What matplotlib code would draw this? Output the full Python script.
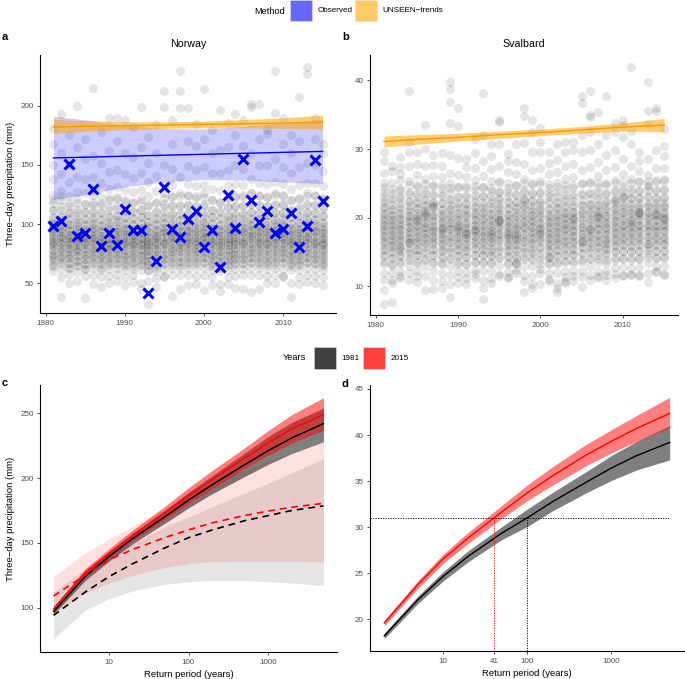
import numpy as np
import matplotlib
matplotlib.use("Agg")
import matplotlib.pyplot as plt
from matplotlib.patches import Rectangle

plt.rcParams['font.family'] = ['Liberation Sans', 'DejaVu Sans']

# ---- data ----
years = list(range(1981, 2016))

# observed Norway 3-day maxima (blue crosses)
norway_obs = [98.1, 102.4, 150.5, 89.6, 92.7, 129.5, 81.7, 92.7, 82.3, 112.5,
              94.7, 95.3, 41.8, 68.7, 131.2, 96.1, 89.0, 104.3, 111.1, 80.8,
              95.3, 63.6, 125.0, 96.7, 155.0, 120.2, 102.1, 110.6, 92.4, 95.6,
              109.7, 80.3, 98.4, 153.9, 119.1]

# UNSEEN ensemble, Norway (mm), one list per year: spread + dense core
norway_ens = [
    [98, 181, 168, 150, 138, 125, 118, 112, 105, 100, 96, 92, 88, 85, 82, 78, 74, 70, 65, 60],
    [193, 160, 142, 128, 120, 112, 106, 101, 97, 94, 90, 87, 84, 80, 76, 72, 68, 62, 55, 38],
    [175, 150, 136, 124, 115, 109, 103, 99, 95, 91, 88, 85, 82, 79, 75, 71, 67, 63, 58, 50],
    [200, 165, 140, 127, 118, 110, 104, 100, 96, 92, 89, 86, 83, 80, 77, 73, 69, 64, 59, 52],
    [172, 155, 138, 126, 117, 110, 104, 99, 95, 91, 88, 85, 82, 78, 74, 70, 66, 62, 56, 37],
    [215, 158, 140, 128, 119, 112, 106, 101, 97, 93, 90, 87, 84, 80, 76, 72, 68, 63, 57, 49],
    [178, 152, 135, 124, 116, 109, 103, 98, 94, 90, 87, 84, 81, 78, 74, 70, 66, 61, 55, 47],
    [190, 162, 144, 130, 120, 112, 106, 100, 96, 92, 88, 85, 82, 79, 75, 71, 67, 62, 56, 50],
    [190, 170, 146, 131, 121, 113, 107, 102, 97, 93, 89, 86, 83, 79, 75, 71, 67, 63, 58, 52],
    [188, 160, 142, 129, 119, 111, 105, 100, 96, 92, 88, 85, 82, 78, 74, 70, 66, 61, 55, 48],
    [182, 157, 139, 127, 118, 110, 104, 99, 95, 91, 88, 85, 82, 79, 75, 71, 67, 62, 57, 51],
    [199, 165, 143, 129, 119, 112, 106, 100, 96, 92, 88, 85, 82, 78, 74, 70, 66, 61, 50, 45],
    [174, 152, 136, 124, 115, 108, 102, 97, 93, 89, 86, 83, 80, 77, 73, 69, 65, 60, 52, 32],
    [185, 160, 141, 128, 118, 110, 104, 99, 95, 91, 88, 85, 82, 78, 74, 70, 65, 60, 54, 47],
    [213, 199, 150, 132, 122, 114, 107, 101, 97, 93, 89, 86, 83, 79, 75, 71, 67, 62, 56, 55],
    [188, 168, 147, 133, 123, 115, 108, 102, 97, 93, 90, 87, 84, 80, 76, 72, 68, 63, 57, 39],
    [230, 213, 198, 140, 126, 116, 109, 103, 98, 94, 90, 86, 83, 80, 76, 72, 68, 63, 57, 45],
    [198, 170, 149, 134, 124, 116, 109, 103, 98, 94, 90, 87, 84, 80, 76, 72, 68, 63, 57, 48],
    [185, 166, 146, 132, 122, 114, 108, 102, 97, 93, 89, 86, 83, 80, 76, 72, 68, 63, 56, 49],
    [214, 172, 148, 133, 123, 115, 108, 102, 97, 93, 90, 87, 84, 80, 76, 72, 68, 63, 57, 44],
    [180, 160, 143, 130, 120, 112, 106, 100, 96, 92, 88, 85, 82, 78, 74, 70, 66, 61, 55, 48],
    [197, 163, 143, 129, 119, 111, 105, 99, 95, 91, 87, 84, 81, 77, 73, 69, 65, 60, 49, 43],
    [186, 165, 146, 132, 122, 114, 107, 101, 96, 92, 88, 85, 82, 78, 74, 70, 66, 61, 55, 49],
    [193, 175, 150, 134, 123, 115, 108, 102, 97, 93, 89, 86, 83, 79, 75, 71, 67, 62, 56, 46],
    [188, 166, 147, 133, 123, 115, 108, 102, 97, 93, 89, 86, 83, 79, 75, 71, 67, 62, 57, 45],
    [202, 199, 160, 138, 126, 117, 110, 104, 99, 95, 91, 88, 84, 80, 76, 72, 68, 63, 57, 42],
    [202, 172, 150, 135, 124, 116, 109, 103, 98, 94, 90, 87, 84, 80, 76, 72, 68, 63, 57, 45],
    [180, 176, 150, 134, 123, 115, 108, 102, 97, 93, 89, 86, 83, 79, 75, 71, 67, 62, 56, 50],
    [230, 194, 155, 136, 125, 116, 109, 103, 98, 94, 90, 87, 84, 80, 76, 72, 68, 63, 57, 50],
    [190, 168, 148, 134, 124, 116, 109, 103, 98, 94, 90, 87, 84, 80, 76, 72, 68, 62, 56, 55],
    [175, 160, 143, 130, 120, 112, 106, 100, 96, 92, 88, 85, 82, 78, 74, 70, 66, 61, 50, 38],
    [208, 170, 148, 133, 122, 114, 107, 101, 96, 92, 88, 85, 82, 78, 74, 70, 66, 61, 55, 49],
    [233, 227, 152, 135, 124, 116, 109, 103, 98, 94, 90, 87, 84, 80, 76, 72, 68, 63, 57, 51],
    [190, 172, 150, 135, 124, 116, 109, 103, 98, 94, 90, 86, 83, 79, 75, 71, 67, 62, 56, 50],
    [168, 160, 145, 132, 122, 114, 107, 101, 96, 92, 88, 85, 82, 78, 74, 70, 66, 61, 55, 48],
]
norway_core = [
    [64, 68, 72, 75, 78, 81, 84, 86, 89, 91, 94, 97, 101, 106, 112, 120],
    [66, 70, 73, 77, 80, 83, 85, 88, 90, 93, 96, 99, 103, 108, 115, 124],
    [63, 67, 71, 74, 77, 80, 83, 86, 88, 91, 94, 97, 100, 105, 110, 118],
    [65, 69, 73, 76, 79, 82, 85, 87, 90, 92, 95, 98, 102, 107, 113, 121],
    [62, 66, 70, 74, 77, 80, 83, 85, 88, 90, 93, 96, 100, 104, 110, 117],
    [66, 70, 74, 77, 80, 83, 86, 88, 91, 94, 97, 100, 104, 109, 116, 125],
    [63, 67, 71, 74, 77, 80, 82, 85, 87, 90, 93, 96, 99, 104, 110, 118],
    [65, 69, 72, 76, 79, 82, 84, 87, 89, 92, 95, 98, 102, 107, 114, 122],
    [66, 70, 74, 77, 80, 83, 86, 88, 91, 93, 96, 99, 103, 108, 115, 123],
    [64, 68, 72, 75, 78, 81, 84, 86, 89, 91, 94, 97, 101, 106, 112, 120],
    [64, 68, 72, 75, 78, 81, 83, 86, 88, 91, 93, 96, 100, 105, 111, 119],
    [65, 69, 73, 76, 79, 82, 84, 87, 89, 92, 94, 97, 101, 106, 112, 121],
    [61, 65, 69, 72, 75, 78, 81, 83, 86, 88, 91, 94, 98, 102, 108, 116],
    [63, 67, 71, 74, 77, 80, 83, 85, 88, 90, 93, 96, 100, 105, 111, 119],
    [66, 70, 74, 78, 81, 84, 86, 89, 92, 94, 97, 101, 105, 110, 117, 126],
    [66, 70, 74, 77, 80, 83, 86, 89, 91, 94, 97, 100, 104, 109, 116, 124],
    [65, 69, 73, 77, 80, 83, 85, 88, 91, 93, 96, 99, 103, 108, 115, 124],
    [66, 70, 74, 78, 81, 84, 86, 89, 92, 94, 97, 100, 104, 109, 116, 125],
    [66, 70, 74, 77, 80, 83, 86, 88, 91, 94, 97, 100, 104, 109, 115, 124],
    [67, 71, 75, 78, 81, 84, 87, 89, 92, 95, 98, 101, 105, 110, 117, 126],
    [64, 68, 72, 75, 78, 81, 84, 86, 89, 91, 94, 97, 101, 106, 112, 120],
    [63, 67, 71, 74, 77, 80, 82, 85, 87, 90, 93, 96, 99, 104, 110, 118],
    [65, 69, 73, 76, 79, 82, 85, 87, 90, 93, 96, 99, 103, 108, 114, 122],
    [66, 70, 74, 77, 80, 83, 86, 88, 91, 94, 97, 100, 104, 109, 115, 124],
    [66, 70, 74, 78, 81, 84, 86, 89, 92, 94, 97, 100, 104, 109, 116, 125],
    [67, 71, 75, 78, 81, 84, 87, 90, 92, 95, 98, 101, 105, 110, 117, 126],
    [66, 70, 74, 78, 81, 84, 86, 89, 92, 94, 97, 100, 104, 109, 116, 125],
    [65, 69, 73, 77, 80, 83, 85, 88, 91, 93, 96, 99, 103, 108, 115, 123],
    [66, 70, 74, 78, 81, 84, 87, 89, 92, 95, 98, 101, 105, 110, 117, 126],
    [67, 71, 75, 78, 81, 84, 87, 89, 92, 95, 98, 101, 105, 110, 117, 125],
    [64, 68, 72, 75, 78, 81, 84, 86, 89, 91, 94, 97, 101, 106, 112, 120],
    [65, 69, 73, 76, 79, 82, 85, 87, 90, 92, 95, 98, 102, 107, 113, 121],
    [67, 71, 75, 78, 81, 84, 87, 89, 92, 95, 98, 101, 105, 110, 117, 126],
    [66, 70, 74, 78, 81, 84, 86, 89, 92, 94, 97, 100, 104, 109, 116, 125],
    [64, 68, 72, 76, 79, 82, 84, 87, 89, 92, 95, 98, 102, 107, 113, 121],
]

# UNSEEN ensemble, Svalbard (mm)
svalbard_ens = [
    [29.6, 28.2, 26.5, 25, 23.8, 22.6, 21.5, 20.5, 19.7, 19, 18.2, 17.4, 16.5, 15.5, 14.4, 13.2, 12, 11, 9.5, 7.5],
    [27.5, 26.8, 25, 23.6, 22.4, 21.3, 20.4, 19.6, 18.9, 18.2, 17.5, 16.8, 16, 15.1, 14.1, 13, 12, 11, 7.7, 10.5],
    [28.8, 27.4, 26.3, 25.5, 24, 22.8, 21.7, 20.7, 19.8, 19, 18.3, 17.5, 16.7, 15.7, 14.6, 13.5, 12.3, 11.5, 11.2, 15.5],
    [38.5, 31, 29.6, 27.6, 25.4, 23.8, 22.4, 21.2, 20.3, 19.5, 18.7, 17.9, 17, 16.3, 15.2, 14.1, 13, 12, 11, 16.4],
    [29.5, 27.8, 26.2, 24.8, 23.5, 22.3, 21.2, 20.3, 19.5, 18.8, 18, 17.2, 16.4, 15.5, 14.5, 13.4, 12.3, 11.5, 10.7, 19.8],
    [33.5, 30, 27.5, 25.6, 24, 22.8, 21.7, 20.8, 20.2, 19.4, 18.6, 17.8, 17, 16.1, 15.1, 14, 12.8, 11.5, 9.5, 20.5],
    [29.2, 27.7, 26.1, 24.7, 23.4, 22.2, 21.6, 20.4, 19.5, 18.7, 18, 17.2, 16.4, 15.5, 14.5, 13.4, 12.2, 11, 9.6, 21.9],
    [29.4, 27.6, 26, 24.7, 23.4, 22.2, 21.1, 20.2, 19.4, 18.5, 17.8, 17, 16.2, 15.3, 14.2, 13.2, 12, 10.8, 9.7, 18.3],
    [39.7, 38.8, 36.9, 33.8, 29.2, 26.5, 24.3, 22.6, 21.3, 20.2, 19.2, 18.3, 17.4, 16.4, 15.3, 14.2, 13, 11.6, 10.3, 8.5],
    [36, 33.3, 28.7, 26.2, 24.5, 23, 21.8, 20.7, 19.7, 18.8, 18, 17.2, 16.3, 15.4, 14.4, 13.3, 12.2, 11.3, 10.5, 18.5],
    [28.6, 27.4, 26, 24.6, 23.3, 22.2, 21.1, 20.2, 19.3, 18.5, 17.8, 17, 16.2, 15.3, 14.3, 13.2, 12.1, 11.2, 10.4, 17.7],
    [31.5, 29.4, 27.3, 25.5, 24, 22.7, 21.6, 20.6, 19.7, 18.9, 18.1, 17.3, 16.5, 15.6, 14.6, 13.5, 12.4, 11.8, 11.2, 18.4],
    [38.1, 32, 28.2, 26.1, 24.5, 23.1, 21.9, 20.8, 19.8, 18.9, 18.1, 17.3, 16.4, 15.5, 14.5, 13.4, 12.3, 10.9, 9.8, 8.1],
    [30.7, 29, 27.1, 25.4, 23.9, 22.6, 21.5, 20.5, 19.6, 18.8, 18, 17.2, 16.4, 15.5, 14.5, 13.5, 12.4, 11.2, 10.5, 17.7],
    [34.3, 33.9, 30.7, 27.5, 25.4, 23.8, 22.6, 21.5, 20.5, 19.7, 19.6, 18.7, 17.7, 16.7, 15.5, 14.3, 13.1, 11.8, 11.5, 19.4],
    [29.3, 28.3, 26.6, 25, 23.7, 22.5, 21.4, 20.4, 19.5, 18.6, 17.9, 17.1, 16.2, 15.3, 14.3, 13.2, 12.1, 11.3, 11.2, 17.5],
    [30.8, 28.1, 26.3, 24.8, 23.5, 22.3, 21.2, 20.2, 19.3, 18.5, 17.7, 16.9, 16, 15.1, 14.1, 13.3, 13.4, 12.4, 12, 17.2],
    [36, 34.8, 30.9, 27.8, 25.6, 24.1, 22.9, 22.5, 21.7, 20.6, 19.5, 18.6, 17.6, 16.6, 15.5, 14.3, 12.9, 11.6, 10.8, 9.2],
    [34.2, 32.5, 29.5, 26.9, 25, 23.6, 22.4, 21.3, 20.4, 19.5, 18.7, 17.9, 17.1, 16.2, 15.2, 14.1, 13, 11.5, 10.3, 9.8],
    [33, 31.1, 29.6, 27.3, 25.4, 23.7, 22.3, 21.2, 20.2, 19.3, 18.5, 17.9, 17.7, 16.8, 15.6, 14.4, 13.2, 12.6, 12, 10.4],
    [29.5, 28, 26.4, 24.9, 23.6, 22.4, 21.3, 20.3, 19.4, 18.6, 17.8, 17, 16.2, 15.3, 14.3, 13.2, 12, 11.1, 10.8, 14.2],
    [30.8, 28.4, 26.7, 25.1, 23.7, 22.5, 21.4, 20.4, 19.5, 18.7, 17.9, 17.1, 16.3, 15.3, 14.3, 13.2, 12, 10.5, 9.2, 9.8],
    [31, 29.6, 27.5, 25.7, 24.2, 22.9, 21.7, 20.7, 19.9, 19.1, 18.3, 17.5, 16.6, 15.7, 14.6, 13.5, 12.3, 11.3, 10.5, 10.8],
    [31, 29.9, 27.8, 25.9, 24.3, 23, 21.8, 20.8, 19.8, 18.9, 18.1, 17.3, 16.4, 15.5, 14.5, 13.4, 12.2, 11.5, 10.8, 19.9],
    [37.8, 36.7, 32, 29.5, 27, 25, 23.3, 21.9, 20.7, 19.6, 18.6, 17.7, 16.8, 15.8, 14.7, 13.5, 12.3, 11.3, 9.9, 16.5],
    [38.5, 35, 34.7, 32.5, 29.8, 27.4, 25.2, 23.4, 22, 20.8, 19.7, 18.3, 17.3, 16.3, 15.3, 14.2, 12.9, 11.6, 10.9, 18.2],
    [35.4, 30.8, 28.1, 26.1, 24.5, 23.1, 21.9, 20.8, 20.2, 19.3, 18.4, 17.5, 16.6, 15.7, 14.6, 13.5, 12.3, 11.5, 11.2, 20.1],
    [37.7, 32, 29.2, 26.9, 25.1, 23.6, 22.3, 21.2, 20.2, 19.3, 18.5, 17.6, 16.7, 15.5, 14.6, 13.4, 12.2, 11.7, 11, 16.2],
    [33.8, 32.5, 29.8, 27.4, 25.5, 24, 22.6, 21.4, 20.4, 19.5, 18.6, 17.8, 16.9, 16, 15, 13.9, 12.7, 11.8, 11.2, 22.5],
    [34.2, 33.5, 31.7, 28.6, 26.3, 24.5, 23.1, 21.9, 20.8, 19.8, 18.9, 18, 17.1, 16.1, 15.1, 14, 12.8, 11.5, 11.7, 23.1],
    [42, 32.7, 30.8, 27.6, 25.7, 24.2, 22.9, 21.7, 20.7, 19.7, 18.8, 17.9, 17, 16, 15, 13.9, 12.7, 11.8, 11.6, 19.2],
    [29.5, 28.3, 26.8, 25.3, 24, 22.8, 21.7, 20.8, 20.6, 19.8, 18.9, 18, 17.1, 16.1, 15.1, 14, 12.8, 11.7, 11.5, 20.9],
    [39.7, 35.6, 33.6, 28.6, 26.2, 24.5, 23.1, 21.9, 20.9, 19.9, 19, 18.1, 17.2, 16.2, 15.8, 14.7, 13.4, 12, 10.6, 24.8],
    [36, 35.5, 29.8, 27.3, 25.5, 24, 22.7, 21.6, 20.6, 19.7, 18.8, 18, 17.1, 16.2, 15.2, 14.1, 12.9, 12.2, 12.1, 20.4],
    [32.9, 30.5, 29, 27.3, 25.7, 24.2, 22.9, 21.7, 20.7, 19.8, 18.9, 18, 17.1, 16.2, 15.2, 14.1, 12.9, 11.8, 11.6, 20],
]
svalbard_core = [
    [13.5, 14.5, 15.3, 16, 16.6, 17.2, 17.8, 18.3, 18.9, 19.5, 20.1, 20.7, 21.4, 22.2, 23.2, 24.5],
    [13.2, 14.2, 15, 15.7, 16.3, 16.9, 17.5, 18, 18.6, 19.2, 19.8, 20.4, 21.1, 21.9, 22.9, 24.2],
    [13.4, 14.4, 15.2, 15.9, 16.5, 17.1, 17.7, 18.2, 18.8, 19.4, 20, 20.6, 21.3, 22.1, 23.1, 24.4],
    [13.8, 14.8, 15.6, 16.3, 16.9, 17.5, 18.1, 18.6, 19.2, 19.8, 20.4, 21, 21.7, 22.5, 23.5, 24.8],
    [13.5, 14.5, 15.3, 16, 16.6, 17.2, 17.8, 18.3, 18.9, 19.5, 20.1, 20.7, 21.4, 22.2, 23.2, 24.5],
    [13.9, 14.9, 15.7, 16.4, 17, 17.6, 18.2, 18.7, 19.3, 19.9, 20.5, 21.1, 21.8, 22.6, 23.6, 24.9],
    [13.6, 14.6, 15.4, 16.1, 16.7, 17.3, 17.9, 18.4, 19, 19.6, 20.2, 20.8, 21.5, 22.3, 23.3, 24.6],
    [13.4, 14.4, 15.2, 15.9, 16.5, 17.1, 17.7, 18.2, 18.8, 19.4, 20, 20.6, 21.3, 22.1, 23.1, 24.4],
    [14, 15, 15.8, 16.5, 17.1, 17.7, 18.3, 18.8, 19.4, 20, 20.6, 21.2, 21.9, 22.7, 23.7, 25],
    [13.5, 14.5, 15.3, 16, 16.6, 17.2, 17.8, 18.3, 18.9, 19.5, 20.1, 20.7, 21.4, 22.2, 23.2, 24.5],
    [13.3, 14.3, 15.1, 15.8, 16.4, 17, 17.6, 18.1, 18.7, 19.3, 19.9, 20.5, 21.2, 22, 23, 24.3],
    [13.6, 14.6, 15.4, 16.1, 16.7, 17.3, 17.9, 18.4, 19, 19.6, 20.2, 20.8, 21.5, 22.3, 23.3, 24.6],
    [13.5, 14.5, 15.3, 16, 16.6, 17.2, 17.8, 18.3, 18.9, 19.5, 20.1, 20.7, 21.4, 22.2, 23.2, 24.5],
    [13.4, 14.4, 15.2, 15.9, 16.5, 17.1, 17.7, 18.2, 18.8, 19.4, 20, 20.6, 21.3, 22.1, 23.1, 24.4],
    [14.1, 15.1, 15.9, 16.6, 17.2, 17.8, 18.4, 18.9, 19.5, 20.1, 20.7, 21.3, 22, 22.8, 23.8, 25.1],
    [13.4, 14.4, 15.2, 15.9, 16.5, 17.1, 17.7, 18.2, 18.8, 19.4, 20, 20.6, 21.3, 22.1, 23.1, 24.4],
    [13.6, 14.6, 15.4, 16.1, 16.7, 17.3, 17.9, 18.4, 19, 19.6, 20.2, 20.8, 21.5, 22.3, 23.3, 24.6],
    [14, 15, 15.8, 16.5, 17.1, 17.7, 18.3, 18.8, 19.4, 20, 20.6, 21.2, 21.9, 22.7, 23.7, 25],
    [13.8, 14.8, 15.6, 16.3, 16.9, 17.5, 18.1, 18.6, 19.2, 19.8, 20.4, 21, 21.7, 22.5, 23.5, 24.8],
    [13.9, 14.9, 15.7, 16.4, 17, 17.6, 18.2, 18.7, 19.3, 19.9, 20.5, 21.1, 21.8, 22.6, 23.6, 24.9],
    [13.4, 14.4, 15.2, 15.9, 16.5, 17.1, 17.7, 18.2, 18.8, 19.4, 20, 20.6, 21.3, 22.1, 23.1, 24.4],
    [13.5, 14.5, 15.3, 16, 16.6, 17.2, 17.8, 18.3, 18.9, 19.5, 20.1, 20.7, 21.4, 22.2, 23.2, 24.5],
    [13.7, 14.7, 15.5, 16.2, 16.8, 17.4, 18, 18.5, 19.1, 19.7, 20.3, 20.9, 21.6, 22.4, 23.4, 24.7],
    [13.7, 14.7, 15.5, 16.2, 16.8, 17.4, 18, 18.5, 19.1, 19.7, 20.3, 20.9, 21.6, 22.4, 23.4, 24.7],
    [13.9, 14.9, 15.7, 16.4, 17, 17.6, 18.2, 18.7, 19.3, 19.9, 20.5, 21.1, 21.8, 22.6, 23.6, 24.9],
    [14, 15, 15.8, 16.5, 17.1, 17.7, 18.3, 18.8, 19.4, 20, 20.6, 21.2, 21.9, 22.7, 23.7, 25],
    [14, 15, 15.8, 16.5, 17.1, 17.7, 18.3, 18.8, 19.4, 20, 20.6, 21.2, 21.9, 22.7, 23.7, 25],
    [13.8, 14.8, 15.6, 16.3, 16.9, 17.5, 18.1, 18.6, 19.2, 19.8, 20.4, 21, 21.7, 22.5, 23.5, 24.8],
    [14.1, 15.1, 15.9, 16.6, 17.2, 17.8, 18.4, 18.9, 19.5, 20.1, 20.7, 21.3, 22, 22.8, 23.8, 25.1],
    [14.2, 15.2, 16, 16.7, 17.3, 17.9, 18.5, 19, 19.6, 20.2, 20.8, 21.4, 22.1, 22.9, 23.9, 25.2],
    [14.1, 15.1, 15.9, 16.6, 17.2, 17.8, 18.4, 18.9, 19.5, 20.1, 20.7, 21.3, 22, 22.8, 23.8, 25.1],
    [14.2, 15.2, 16, 16.7, 17.3, 17.9, 18.5, 19, 19.6, 20.2, 20.8, 21.4, 22.1, 22.9, 23.9, 25.2],
    [14.3, 15.3, 16.1, 16.8, 17.4, 18, 18.6, 19.1, 19.7, 20.3, 20.9, 21.5, 22.2, 23, 24, 25.3],
    [14.2, 15.2, 16, 16.7, 17.3, 17.9, 18.5, 19, 19.6, 20.2, 20.8, 21.4, 22.1, 22.9, 23.9, 25.2],
    [14.3, 15.3, 16.1, 16.8, 17.4, 18, 18.6, 19.1, 19.7, 20.3, 20.9, 21.5, 22.2, 23, 24, 25.3],
]

# trend lines with confidence bands (read at these years)
trend_years = [1981, 1985, 1990, 1995, 2000, 2005, 2010, 2015]
nor_obs_fit = [156.0, 156.6, 157.5, 158.3, 159.1, 159.9, 160.7, 161.5]
nor_obs_lo = [120.7, 125.0, 131.5, 135.7, 137.7, 137.2, 135.7, 134.3]
nor_obs_hi = [191.3, 188.3, 183.4, 180.8, 180.4, 182.6, 185.7, 188.7]
nor_un_fit = [182.2, 182.7, 183.2, 183.8, 184.4, 184.9, 185.5, 186.1]
nor_un_lo = [176.8, 178.5, 180.0, 181.0, 181.5, 181.5, 181.0, 180.2]
nor_un_hi = [188.7, 187.5, 186.6, 186.5, 187.2, 188.4, 190.0, 192.2]
sva_un_fit = [31.1, 31.4, 31.7, 32.1, 32.4, 32.8, 33.2, 33.5]
sva_un_lo = [30.3, 30.7, 31.15, 31.55, 31.95, 32.3, 32.6, 32.55]
sva_un_hi = [31.9, 32.1, 32.3, 32.6, 32.9, 33.3, 33.8, 34.45]

# return level curves
rp = [2, 5, 10, 20, 50, 100, 200, 500, 1000, 2000, 5000]
c_un15 = [99, 127, 142, 156, 173, 186.5, 199, 215, 227, 238, 249]
c_un15_lo = [97, 124, 138.5, 152, 168, 180.5, 192, 207, 217.5, 227, 237]
c_un15_hi = [101, 130, 145.5, 160, 178, 192.5, 206, 223, 236.5, 249, 262]
c_un81 = [97, 124, 139.5, 153.5, 170, 183, 195, 210, 221, 231, 242]
c_un81_lo = [95, 121, 136, 149.5, 165, 177, 188, 201, 210.5, 219, 228]
c_un81_hi = [99, 127, 143, 157.5, 175, 189, 202, 219, 232, 243, 254]
c_ob15 = [109, 125, 137, 145, 154, 160, 165.5, 171, 174.5, 177.5, 180.5]
c_ob15_lo = [96, 111, 119, 125, 131, 134, 135.5, 136, 136, 136, 135.5]
c_ob15_hi = [124, 142, 153, 163, 176, 186, 196, 206, 213, 220, 228]
c_ob81 = [94, 112, 124, 134, 146, 154, 160, 167, 171, 175, 178.5]
c_ob81_lo = [76, 98, 107, 113, 118, 120, 121, 121, 120, 119, 117]
c_ob81_hi = [112, 130, 141, 150, 162, 170, 178, 188, 196, 204, 215]

d_15 = [19.6, 23.75, 26.55, 28.85, 31.65, 33.7, 35.55, 37.8, 39.3, 40.7, 42.35]
d_15_lo = [19.3, 23.35, 26.05, 28.25, 30.95, 32.85, 34.55, 36.65, 38.05, 39.3, 40.8]
d_15_hi = [19.9, 24.15, 27.05, 29.45, 32.35, 34.55, 36.55, 38.95, 40.55, 42.1, 44.1]
d_81 = [18.2, 22.1, 24.65, 26.85, 29.35, 31.0, 32.75, 34.85, 36.4, 37.75, 39.2]
d_81_lo = [17.9, 21.7, 24.15, 26.25, 28.65, 30.05, 31.75, 33.7, 35.05, 36.2, 37.3]
d_81_hi = [18.5, 22.5, 25.15, 27.45, 30.05, 31.95, 33.75, 36.0, 37.75, 39.3, 41.0]
event_svalbard = 31
rp_2015 = 41
rp_1981 = 100

# ---- figure ----
W, H = 685, 679
fig = plt.figure(figsize=(W / 100, H / 100), dpi=100)


def px_axes(l, t, r, b):
    return fig.add_axes([l / W, 1 - b / H, (r - l) / W, (b - t) / H])


def style(ax):
    for s in ['top', 'right']:
        ax.spines[s].set_visible(False)
    for s in ['left', 'bottom']:
        ax.spines[s].set_linewidth(0.8)
    ax.tick_params(length=2.2, width=0.6, color='#333333', labelsize=5.8,
                   labelcolor='#4D4D4D', pad=2.5)
    ax.minorticks_off()


def scatter_ens(ax, *groups):
    for ens in groups:
        xs = np.repeat(years, [len(v) for v in ens])
        ys = np.concatenate(ens)
        ax.scatter(xs, ys, s=42, color='black', alpha=0.1, linewidths=0, zorder=1)


# panel a
ax_a = px_axes(40, 55, 336, 313)
scatter_ens(ax_a, norway_ens, norway_core)
ax_a.fill_between(trend_years, nor_obs_lo, nor_obs_hi, color='blue', alpha=0.2, lw=0, zorder=2)
ax_a.fill_between(trend_years, nor_un_lo, nor_un_hi, color='orange', alpha=0.55, lw=0, zorder=2)
ax_a.plot(trend_years, nor_obs_fit, color='blue', lw=1, zorder=3)
ax_a.plot(trend_years, nor_un_fit, color='#F59B00', lw=1, zorder=3)
ax_a.plot(years, norway_obs, 'x', color='blue', ms=6.5, mew=2.2, zorder=4)
ax_a.set_xlim(1979.3, 2016.7)
ax_a.set_ylim(24.6, 243.2)
ax_a.set_xticks([1980, 1990, 2000, 2010])
ax_a.set_yticks([50, 100, 150, 200])
ax_a.set_title('Norway', fontsize=7.7, pad=6)
ax_a.set_ylabel('Three\u2212day precipitation (mm)', fontsize=6.8)
ax_a.yaxis.set_label_coords(-0.085, 0.5)
style(ax_a)

# panel b
ax_b = px_axes(370, 55, 678, 315)
scatter_ens(ax_b, svalbard_ens, svalbard_core)
ax_b.fill_between(trend_years, sva_un_lo, sva_un_hi, color='orange', alpha=0.55, lw=0, zorder=2)
ax_b.plot(trend_years, sva_un_fit, color='#F59B00', lw=1, zorder=3)
ax_b.set_xlim(1979.3, 2016.7)
ax_b.set_ylim(5.83, 43.7)
ax_b.set_xticks([1980, 1990, 2000, 2010])
ax_b.set_yticks([10, 20, 30, 40])
ax_b.set_title('Svalbard', fontsize=7.7, pad=6)
style(ax_b)

# panel c
ax_c = px_axes(40, 385, 337, 652)
ax_c.set_xscale('log')
ax_c.fill_between(rp, c_ob81_lo, c_ob81_hi, color='black', alpha=0.1, lw=0)
ax_c.fill_between(rp, c_ob15_lo, c_ob15_hi, color='red', alpha=0.12, lw=0)
ax_c.fill_between(rp, c_un81_lo, c_un81_hi, color='black', alpha=0.5, lw=0)
ax_c.plot(rp, c_un81, color='black', lw=1)
ax_c.fill_between(rp, c_un15_lo, c_un15_hi, color='red', alpha=0.5, lw=0)
ax_c.plot(rp, c_un15, color='red', lw=1)
ax_c.plot(rp, c_ob81, color='black', lw=1.2, ls=(0, (4, 3)))
ax_c.plot(rp, c_ob15, color='red', lw=1.2, ls=(0, (4, 3)))
ax_c.set_xlim(10 ** 0.131, 10 ** 3.869)
ax_c.set_ylim(65.8, 271.8)
ax_c.set_xticks([10, 100, 1000])
ax_c.set_xticklabels(['10', '100', '1000'])
ax_c.set_yticks([100, 150, 200, 250])
ax_c.set_xlabel('Return period (years)', fontsize=6.8, labelpad=3)
ax_c.set_ylabel('Three\u2212day precipitation (mm)', fontsize=6.8)
ax_c.yaxis.set_label_coords(-0.085, 0.5)
style(ax_c)

# panel d
ax_d = px_axes(370, 385, 684, 651)
ax_d.set_xscale('log')
ax_d.fill_between(rp, d_81_lo, d_81_hi, color='black', alpha=0.5, lw=0)
ax_d.plot(rp, d_81, color='black', lw=1)
ax_d.fill_between(rp, d_15_lo, d_15_hi, color='red', alpha=0.5, lw=0)
ax_d.plot(rp, d_15, color='red', lw=1)
xl = (10 ** 0.131, 10 ** 3.869)
yl = (16.56, 45.43)
ax_d.plot([xl[0], rp[-1]], [event_svalbard, event_svalbard], color='black', lw=0.6, ls=(0, (1.5, 1.5)))
ax_d.plot([rp_2015, rp_2015], [yl[0], event_svalbard], color='red', lw=0.6, ls=(0, (1.5, 1.5)))
ax_d.plot([rp_1981, rp_1981], [yl[0], event_svalbard], color='black', lw=0.6, ls=(0, (1.5, 1.5)))
ax_d.set_xlim(*xl)
ax_d.set_ylim(*yl)
ax_d.set_xticks([10, rp_2015, 100, 1000])
ax_d.set_xticklabels(['10', str(rp_2015), '100', '1000'])
ax_d.set_yticks([20, 25, 30, 35, 40, 45])
ax_d.set_xlabel('Return period (years)', fontsize=6.8, labelpad=3)
style(ax_d)

# panel letters
for lab, x, y in [('a', 2, 37), ('b', 342, 37), ('c', 2, 383), ('d', 342, 384)]:
    fig.text(x / W, 1 - y / H, lab, fontsize=8, fontweight='bold', va='center', ha='left')


# legends drawn by hand in pixel coords
def key(x0, y0, x1, y1, color):
    fig.add_artist(Rectangle((x0 / W, 1 - y1 / H), (x1 - x0) / W, (y1 - y0) / H,
                             transform=fig.transFigure, facecolor=color,
                             edgecolor='#e0e0e0', lw=0.4))


def ltext(x, y, s, size):
    fig.text(x / W, 1 - y / H, s, fontsize=size, va='center', ha='left')


ltext(254, 11, 'Method', 6.7)
key(290, 0.5, 311.7, 21, (0.4, 0.4, 1.0))
ltext(317.5, 11, 'Observed', 5.9)
key(355, 0.5, 376.7, 21, (1.0, 0.79, 0.4))
ltext(382.5, 11, 'UNSEEN\u2212trends', 5.9)

ltext(282.5, 358, 'Years', 6.7)
key(314, 346.7, 335.5, 369, (0.25, 0.25, 0.25))
ltext(341.5, 358, '1981', 5.9)
key(363.3, 346.7, 384.7, 369, (1.0, 0.25, 0.25))
ltext(390.5, 358, '2015', 5.9)

fig.savefig('out.png', dpi=100)
